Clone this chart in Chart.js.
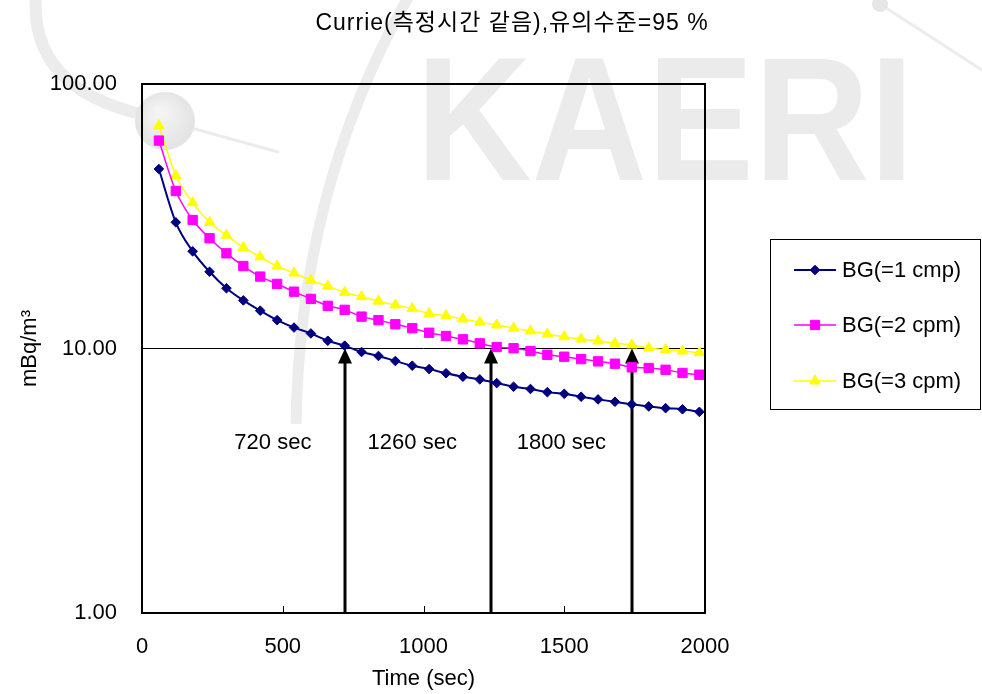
<!DOCTYPE html>
<html>
<head>
<meta charset="utf-8">
<script src="https://cdn.jsdelivr.net/npm/chart.js@4.4.1/dist/chart.umd.min.js"></script>
<style>
  html, body { margin: 0; padding: 0; background: #ffffff; }
  #wrap { width: 982px; height: 694px; }
</style>
</head>
<body>
<div id="wrap"><canvas id="chart" width="982" height="694"></canvas></div>
<script>
// Données (temps en s, activité en mBq/m3)
const times = [60, 120, 180, 240, 300, 360, 420, 480, 540, 600, 660, 720, 780, 840, 900, 960, 1020,
               1080, 1140, 1200, 1260, 1320, 1380, 1440, 1500, 1560, 1620, 1680, 1740, 1800, 1860, 1920, 1980];
const bg1 = [47.7, 30.0, 23.3, 19.5, 16.9, 15.2, 13.9, 12.8, 12.0, 11.4, 10.7, 10.25, 9.70, 9.37, 8.97, 8.61, 8.36,
             8.06, 7.82, 7.64, 7.40, 7.17, 7.03, 6.84, 6.74, 6.57, 6.42, 6.29, 6.15, 6.04, 5.95, 5.89, 5.76];
const bg2 = [61.1, 39.4, 30.6, 26.1, 22.9, 20.5, 18.7, 17.55, 16.4, 15.4, 14.5, 14.0, 13.2, 12.8, 12.35, 11.93, 11.47,
             11.15, 10.83, 10.46, 10.13, 10.02, 9.78, 9.47, 9.31, 9.12, 8.94, 8.76, 8.49, 8.44, 8.31, 8.08, 7.96];
const bg3 = [69.6, 45.1, 35.6, 30.0, 26.8, 24.1, 22.2, 20.5, 19.3, 18.1, 17.2, 16.3, 15.7, 15.1, 14.6, 14.15, 13.55,
             13.31, 12.93, 12.57, 12.27, 11.93, 11.65, 11.35, 11.08, 10.86, 10.68, 10.46, 10.31, 10.04, 9.90, 9.78, 9.64];
const seriesNames = ['BG(=1 cmp)', 'BG(=2 cpm)', 'BG(=3 cpm)'];

const xTicks = [0, 500, 1000, 1500, 2000];
const yTicks = [1, 10, 100];

// Flèches et étiquettes
const arrowTimes = [720, 1240, 1740];
const arrowLabels = ['720 sec', '1260 sec', '1800 sec'];
const labelTimes = [465, 960, 1490];
const labelLevel = 4.4;

const chartTitle = 'Currie(측정시간 같음),유의수준=95 %';
const xTitle = 'Time (sec)';
const yTitle = 'mBq/m³';

const FONT = "'Liberation Sans', 'Noto Sans CJK KR', Arial, sans-serif";

function toPoints(values) {
    return times.map((t, i) => ({ x: t, y: values[i] }));
}

// Filigrane KAERI en arrière-plan
const watermarkPlugin = {
    id: 'watermark',
    beforeDraw(chart) {
        const ctx = chart.ctx;
        ctx.save();
        ctx.fillStyle = '#ffffff';
        ctx.fillRect(0, 0, chart.width, chart.height);

        ctx.strokeStyle = '#ececec';
        ctx.lineCap = 'round';
        // trait courbe diagonal
        ctx.lineWidth = 11;
        ctx.beginPath();
        ctx.moveTo(410, -6);
        ctx.quadraticCurveTo(298, 190, 296, 430);
        ctx.stroke();
        // orbite
        ctx.lineWidth = 12;
        ctx.beginPath();
        ctx.moveTo(36, -6);
        ctx.quadraticCurveTo(28, 95, 160, 118);
        ctx.stroke();
        ctx.lineWidth = 3;
        ctx.beginPath();
        ctx.moveTo(170, 122);
        ctx.lineTo(278, 152);
        ctx.stroke();
        // coin haut droit
        ctx.beginPath();
        ctx.moveTo(880, 4);
        ctx.lineTo(982, 70);
        ctx.stroke();
        ctx.fillStyle = '#e6e6e6';
        ctx.beginPath();
        ctx.arc(880, 4, 8, 0, Math.PI * 2);
        ctx.fill();
        // sphère
        const g = ctx.createRadialGradient(160, 112, 4, 165, 120, 31);
        g.addColorStop(0, '#f4f4f4');
        g.addColorStop(1, '#e2e2e2');
        ctx.fillStyle = g;
        ctx.beginPath();
        ctx.ellipse(165, 121, 30, 29, 0, 0, Math.PI * 2);
        ctx.fill();
        // texte
        ctx.fillStyle = '#ebebeb';
        ctx.font = "bold 176px 'Liberation Sans', Arial, sans-serif";
        ctx.textBaseline = 'alphabetic';
        ctx.textAlign = 'left';
        ctx.fillText('KAERI', 416, 180, 498);
        ctx.restore();
    }
};

// Flèches verticales et étiquettes de temps
const arrowPlugin = {
    id: 'arrows',
    beforeDatasetsDraw(chart) {
        const ctx = chart.ctx;
        const xs = chart.scales.x, ys = chart.scales.y;
        ctx.save();
        ctx.fillStyle = '#000000';
        ctx.strokeStyle = '#000000';
        ctx.lineWidth = 3;
        const tip = ys.getPixelForValue(10);
        const base = ys.getPixelForValue(1) - 1;
        arrowTimes.forEach(t => {
            const px = Math.round(xs.getPixelForValue(t));
            ctx.beginPath();
            ctx.moveTo(px, base);
            ctx.lineTo(px, tip + 12);
            ctx.stroke();
            ctx.beginPath();
            ctx.moveTo(px, tip);
            ctx.lineTo(px - 7, tip + 15);
            ctx.lineTo(px + 7, tip + 15);
            ctx.closePath();
            ctx.fill();
        });
        ctx.font = '22px ' + FONT;
        ctx.textAlign = 'center';
        ctx.textBaseline = 'middle';
        arrowLabels.forEach((txt, i) => {
            const cx = xs.getPixelForValue(labelTimes[i]);
            const cy = ys.getPixelForValue(labelLevel);
            const w = ctx.measureText(txt).width;
            ctx.fillStyle = '#ffffff';
            ctx.fillRect(cx - w / 2 - 14, cy - 19, w + 37, 34);
            ctx.fillStyle = '#000000';
            ctx.fillText(txt, cx, cy);
        });
        ctx.restore();
    }
};

// Cadre, graduations internes, légende et titre
const framePlugin = {
    id: 'frame',
    afterDatasetsDraw(chart) {
        const ctx = chart.ctx;
        const a = chart.chartArea;
        const xs = chart.scales.x;
        ctx.save();
        ctx.strokeStyle = '#000000';
        ctx.lineWidth = 2;
        ctx.strokeRect(a.left, a.top, a.right - a.left, a.bottom - a.top);

        ctx.lineWidth = 1;
        xTicks.slice(1, -1).forEach(v => {
            const px = Math.round(xs.getPixelForValue(v)) + 0.5;
            ctx.beginPath();
            ctx.moveTo(px, a.bottom);
            ctx.lineTo(px, a.bottom - 7);
            ctx.stroke();
        });

        // légende
        ctx.lineWidth = 1;
        ctx.strokeRect(770.5, 239.5, 210, 170);
        const rows = [270, 325, 381];
        ctx.font = '22px ' + FONT;
        ctx.textAlign = 'left';
        ctx.textBaseline = 'middle';
        chart.data.datasets.forEach((ds, i) => {
            const y = rows[i];
            ctx.strokeStyle = ds.borderColor;
            ctx.lineWidth = ds.borderWidth;
            ctx.beginPath();
            ctx.moveTo(794, y);
            ctx.lineTo(836, y);
            ctx.stroke();
            ctx.fillStyle = ds.pointBackgroundColor;
            ctx.strokeStyle = ds.borderColor;
            ctx.lineWidth = 1;
            Chart.helpers.drawPoint(ctx, {
                pointStyle: ds.pointStyle,
                radius: ds.pointRadius,
                rotation: 0,
                borderWidth: 1
            }, 815, y);
            ctx.fillStyle = '#000000';
            ctx.fillText(seriesNames[i], 842, y + 1);
        });

        // titre
        ctx.textAlign = 'center';
        ctx.fillStyle = '#000000';
        ctx.font = '23px ' + FONT;
        ctx.letterSpacing = '1px';
        ctx.fillText(chartTitle, 512, 24);
        ctx.restore();
    }
};

const ctx = document.getElementById('chart').getContext('2d');
const chart = new Chart(ctx, {
    type: 'line',
    data: {
        datasets: [
            {
                label: seriesNames[0],
                data: toPoints(bg1),
                borderColor: '#000080',
                backgroundColor: '#000080',
                pointBackgroundColor: '#000080',
                borderWidth: 2,
                pointStyle: 'rectRot',
                pointRadius: 4.8,
                pointBorderWidth: 1,
                cubicInterpolationMode: 'monotone'
            },
            {
                label: seriesNames[1],
                data: toPoints(bg2),
                borderColor: '#ff00ff',
                backgroundColor: '#ff00ff',
                pointBackgroundColor: '#ff00ff',
                borderWidth: 1.5,
                pointStyle: 'rect',
                pointRadius: 6.6,
                pointBorderWidth: 1,
                cubicInterpolationMode: 'monotone'
            },
            {
                label: seriesNames[2],
                data: toPoints(bg3),
                borderColor: '#ffff00',
                backgroundColor: '#ffff00',
                pointBackgroundColor: '#ffff00',
                borderWidth: 1.5,
                pointStyle: 'triangle',
                pointRadius: 6,
                pointBorderWidth: 1,
                cubicInterpolationMode: 'monotone'
            }
        ]
    },
    options: {
        responsive: false,
        animation: false,
        devicePixelRatio: 1,
        layout: { padding: { left: 0, right: 277, top: 84, bottom: 0 } },
        plugins: {
            legend: { display: false },
            title: { display: false },
            tooltip: { enabled: false }
        },
        scales: {
            x: {
                type: 'linear',
                min: 0,
                max: 2000,
                afterBuildTicks: s => { s.ticks = xTicks.map(v => ({ value: v })); },
                afterFit: s => { s.height = 81; },
                grid: { display: false, drawTicks: false },
                border: { display: false },
                ticks: {
                    color: '#000000',
                    padding: 21,
                    maxRotation: 0,
                    font: { family: FONT, size: 22 },
                    callback: v => String(v)
                },
                title: {
                    display: true,
                    text: xTitle,
                    color: '#000000',
                    font: { family: FONT, size: 22 },
                    padding: { top: 0, bottom: 2 }
                }
            },
            y: {
                type: 'logarithmic',
                min: 1,
                max: 100,
                afterBuildTicks: s => { s.ticks = yTicks.map(v => ({ value: v })); },
                afterFit: s => { s.width = 142; },
                grid: { color: '#000000', lineWidth: 1, drawTicks: false },
                border: { display: false },
                ticks: {
                    color: '#000000',
                    padding: 25,
                    font: { family: FONT, size: 22 },
                    callback: v => Number(v).toFixed(2)
                },
                title: {
                    display: true,
                    text: yTitle,
                    color: '#000000',
                    font: { family: FONT, size: 22 },
                    padding: { top: 17, bottom: 0 }
                }
            }
        }
    },
    plugins: [watermarkPlugin, arrowPlugin, framePlugin]
});
</script>
</body>
</html>
